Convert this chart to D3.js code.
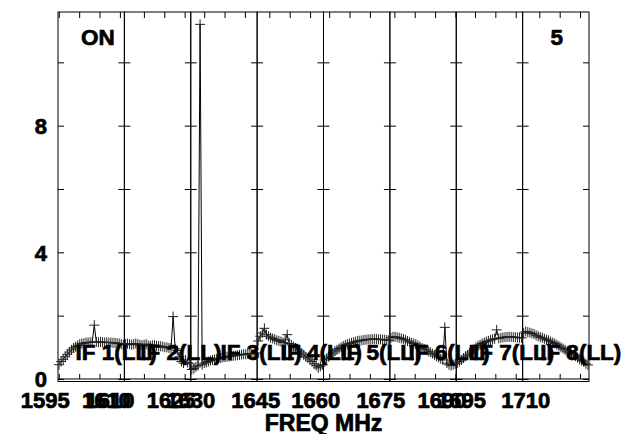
<!DOCTYPE html>
<html><head><meta charset="utf-8">
<script src="https://cdn.jsdelivr.net/npm/d3@7"></script>
<style>
body{margin:0;background:#fff}
text{font-family:"Liberation Sans",Arial,Helvetica,sans-serif;font-weight:bold;fill:#000;stroke:#000;stroke-width:0.7px;paint-order:stroke}
</style>
</head><body>
<svg id="chart" width="627" height="434"></svg>
<script>
// ---------------- data ----------------
const ifNames = ["IF 1(LL)","IF 2(LL)","IF 3(LL)","IF 4(LL)","IF 5(LL)","IF 6(LL)","IF 7(LL)","IF 8(LL)"];
const panelStartMHz = [1594.8, 1610.2, 1626.7, 1642.0, 1658.6, 1673.9, 1690.4, 1705.9];
const bandwidthMHz = 16.3;
const ifLabelMHz = [1599.1, 1614.1, 1634.0, 1647.8, 1662.7, 1678.5, 1694.5, 1710.2];

const amp1 = [0.45,0.55,0.62,0.70,0.78,0.85,0.92,0.98,1.02,1.06,1.10,1.12,1.13,1.15,1.15,1.16,1.17,1.70,1.17,1.16,1.17,1.16,1.15,1.16,1.15,1.15,1.14,1.14,1.13,1.12,1.10,1.08];
const amp2 = [1.10,1.12,1.10,1.08,1.10,1.12,1.10,1.08,1.07,1.08,1.10,1.06,1.05,1.06,1.07,1.05,1.04,1.03,1.02,1.00,1.00,0.98,0.98,1.97,0.95,0.90,0.70,0.55,0.50,0.60,0.52,0.48];
const amp3 = [0.30,0.33,0.38,0.42,11.20,0.45,0.50,0.52,0.55,0.58,0.60,0.62,0.63,0.65,0.66,0.68,0.69,0.70,0.71,0.72,0.73,0.74,0.75,0.76,0.77,0.78,0.78,0.79,0.80,0.80,0.81,0.82];
const amp4 = [1.20,1.35,1.45,1.60,1.40,1.35,1.30,1.28,1.25,1.22,1.20,1.18,1.15,1.23,1.40,1.12,1.08,1.02,0.98,0.92,0.88,0.82,0.76,0.70,0.66,0.60,0.55,0.48,0.42,0.35,0.40,0.45];
const amp5 = [0.60,0.65,0.70,0.76,0.82,0.88,0.92,0.96,1.00,1.04,1.07,1.10,1.12,1.14,1.16,1.18,1.20,1.21,1.22,1.23,1.24,1.25,1.25,1.26,1.26,1.26,1.25,1.25,1.24,1.24,1.23,1.22];
const amp6 = [1.30,1.33,1.33,1.32,1.30,1.28,1.26,1.24,1.20,1.17,1.14,1.12,1.10,1.06,1.02,0.98,0.95,0.92,0.88,0.85,0.80,0.76,0.72,0.68,0.64,0.60,1.63,0.50,0.45,0.42,0.45,0.48];
const amp7 = [0.50,0.55,0.60,0.66,0.72,0.76,0.82,0.88,0.94,1.00,1.05,1.08,1.12,1.15,1.18,1.20,1.23,1.25,1.27,1.55,1.28,1.30,1.31,1.32,1.33,1.33,1.33,1.32,1.32,1.31,1.30,1.30];
const amp8 = [1.45,1.50,1.48,1.46,1.44,1.42,1.38,1.35,1.32,1.30,1.27,1.24,1.22,1.18,1.15,1.12,1.08,1.04,1.00,0.96,0.92,0.88,0.84,0.80,0.76,0.72,0.67,0.62,0.58,0.54,0.48,0.44];
const amplitudes = [amp1, amp2, amp3, amp4, amp5, amp6, amp7, amp8];

const yTickValues = [0, 2, 4, 6, 8, 10];
const yLabelValues = [0, 4, 8];
const freqLabelPanel = [0, 0, 1, 1, 2, 3, 4, 5, 5, 6, 7];
const freqLabelMHz   = [1595, 1610, 1610, 1625, 1630, 1645, 1660, 1675, 1690, 1695, 1710];
const freqTickStepMHz = 5;
const xTitle = "FREQ MHz";
const cornerLeft = "ON";
const cornerRight = "5";

// ---------------- layout ----------------
const svg = d3.select("#chart");
const plotLeft = 58, plotRight = 589, plotTop = 12, plotBottom = 381.5;

const y = d3.scaleLinear().domain([-0.08, 11.59]).range([plotBottom, plotTop]);
const panels = d3.scaleBand().domain(d3.range(ifNames.length)).range([plotLeft, plotRight]).paddingInner(0).paddingOuter(0);
const pw = panels.bandwidth();
const xScales = panelStartMHz.map((f, i) =>
  d3.scaleLinear().domain([f, f + bandwidthMHz]).range([panels(i), panels(i) + pw]));

const gAxes = svg.append("g");
const gData = svg.append("g");
const gText = svg.append("g");

// zero line
gAxes.append("line")
  .attr("x1", plotLeft).attr("x2", plotRight)
  .attr("y1", y(0)).attr("y2", y(0))
  .attr("stroke", "#000").attr("stroke-width", 1);

ifNames.forEach((name, i) => {
  const x = xScales[i];
  const x0 = panels(i), x1 = x0 + pw;
  const g = gAxes.append("g");
  g.append("rect").attr("x", x0).attr("y", plotTop).attr("width", pw).attr("height", plotBottom - plotTop)
    .attr("fill", "none").attr("stroke", "#000").attr("stroke-width", 1);
  const yl = d3.axisLeft(y).tickValues(yTickValues).tickSize(-6).tickFormat("");
  const yr = d3.axisRight(y).tickValues(yTickValues).tickSize(-6).tickFormat("");
  g.append("g").attr("transform", `translate(${x0},0)`).call(yl).call(s => s.select(".domain").remove());
  g.append("g").attr("transform", `translate(${x1},0)`).call(yr).call(s => s.select(".domain").remove());
  const f0 = panelStartMHz[i];
  const ticks = d3.range(Math.ceil(f0 / freqTickStepMHz) * freqTickStepMHz, f0 + bandwidthMHz, freqTickStepMHz);
  const xt = d3.axisTop(x).tickValues(ticks).tickSize(-6).tickFormat("");
  const xb = d3.axisBottom(x).tickValues(ticks).tickSize(-5).tickFormat("");
  g.append("g").attr("transform", `translate(0,${plotTop})`).call(xt).call(s => s.select(".domain").remove());
  g.append("g").attr("transform", `translate(0,${y(0)})`).call(xb).call(s => s.select(".domain").remove());
});
gAxes.selectAll(".tick line").attr("stroke", "#000").attr("stroke-width", 1);

// data
amplitudes.forEach((vals, i) => {
  const x = xScales[i];
  const f0 = panelStartMHz[i];
  const n = vals.length;
  const pts = vals.map((v, j) => [x(f0 + (j + 0.5) * bandwidthMHz / n), y(v)]);
  gData.append("path").attr("d", d3.line()(pts))
    .attr("fill", "none").attr("stroke", "#000").attr("stroke-width", 1);
  const s = 5;
  gData.append("path")
    .attr("d", pts.map(([px, py]) => `M${px - s},${py}H${px + s}M${px},${py - s}V${py + s}`).join(""))
    .attr("fill", "none").attr("stroke", "#222").attr("stroke-width", 1);
});

// IF labels
ifNames.forEach((name, i) => {
  gText.append("text").attr("x", xScales[i](ifLabelMHz[i])).attr("y", 360)
    .attr("font-size", 22.5).text(name);
});

// y labels
gText.selectAll(".ylab").data(yLabelValues).join("text")
  .attr("x", 47).attr("y", d => y(d) + 8.5).attr("text-anchor", "end")
  .attr("font-size", 22).text(d => d);

// freq labels
freqLabelMHz.forEach((f, k) => {
  gText.append("text").attr("x", xScales[freqLabelPanel[k]](f) - 13.5).attr("y", 408)
    .attr("text-anchor", "middle").attr("font-size", 22).text(f);
});

gText.append("text").attr("x", (plotLeft + plotRight) / 2).attr("y", 431)
  .attr("text-anchor", "middle").attr("font-size", 23).text(xTitle);
gText.append("text").attr("x", 81).attr("y", 45).attr("font-size", 22.5).text(cornerLeft);
gText.append("text").attr("x", 550.5).attr("y", 45).attr("font-size", 22.5).text(cornerRight);
</script>
</body></html>
